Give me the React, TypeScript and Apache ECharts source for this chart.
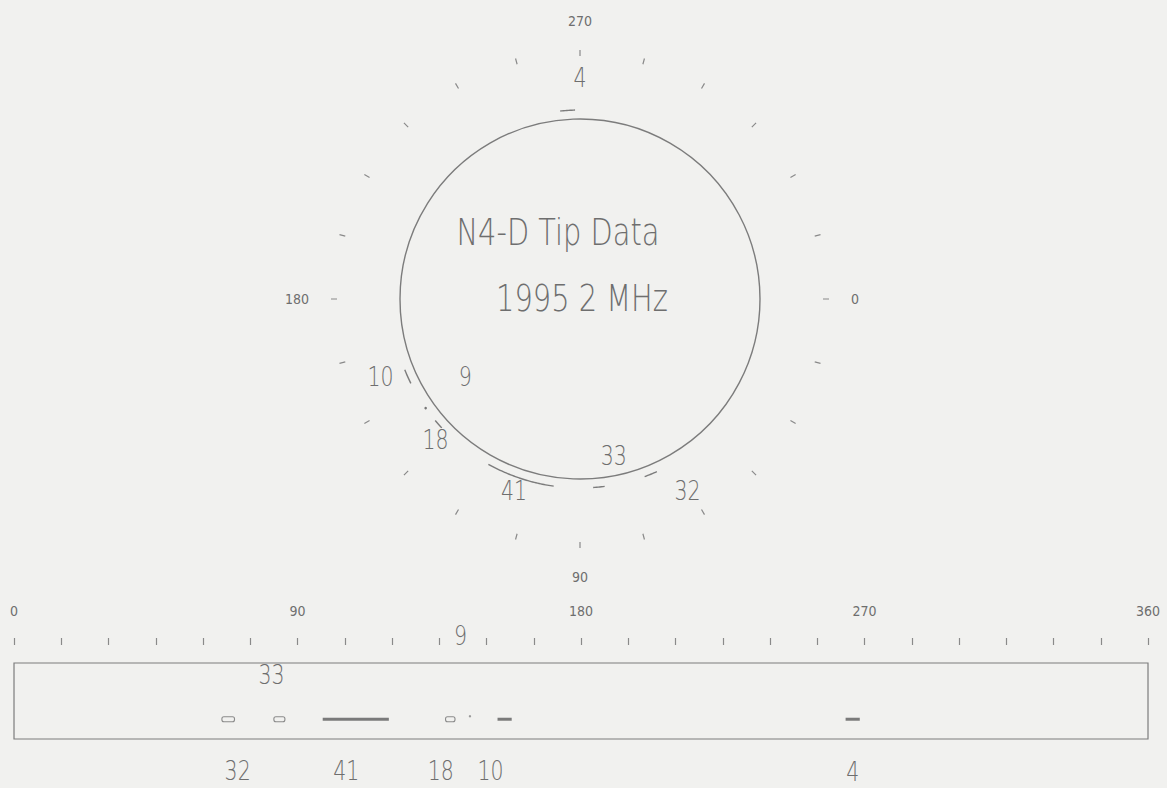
import React, { useEffect, useRef } from 'react';
import * as echarts from 'echarts';

// Tip indications: id, and angular extent in degrees (0 = right, clockwise)
const tipIds = ['32', '33', '41', '18', '9', '10', '4'];
const arcStart = [66, 82.5, 98, 137, 144.5, 153.5, 264];
const arcEnd = [70, 86, 119, 140, 145, 158, 268.5];

// Angle scale shared by the polar view and the unrolled strip
const angleMin = 0;
const angleMax = 360;
const angleStep = 15;
const labelledAngles = [0, 90, 180, 270, 360];

const titleLines = ['N4-D Tip Data', '1995 2 MHz'];

// ---- layout and styling ----
const THIN_FONT = "'DejaVu Sans', 'Noto Sans', sans-serif";
const AXIS_FONT = "'DejaVu Sans Condensed', 'DejaVu Sans', sans-serif";
const INK = '#6e6e6e';
const LINE = '#7c7c7c';
const BG = '#f1f1ef';
const NARROW = 0.76; // horizontal squeeze for the plotter-style lettering

const POLAR_CENTER = [580, 299];
const CIRCLE_PX = 180;
const RING_PX = 243;
const MARK_R = 1.05; // arc marks sit just outside the unit circle

// where each id label sits around the circle (angle in deg, radius in circle units)
const polarLabelAt: Record<string, { a: number; r: number }> = {
  '32': { a: 60.7, r: 1.22 },
  '33': { a: 77.8, r: 0.89 },
  '41': { a: 108.9, r: 1.13 },
  '18': { a: 135.8, r: 1.12 },
  '9': { a: 145.8, r: 0.77 },
  '10': { a: 158.6, r: 1.19 },
  '4': { a: 270, r: 1.23 },
};

// strip label: horizontal shift (deg) from mark centre, vertical level (grid units)
const stripLabelAt: Record<string, { dx: number; y: number }> = {
  '32': { dx: 3, y: -0.42 },
  '33': { dx: -2.5, y: 0.84 },
  '41': { dx: -3, y: -0.42 },
  '18': { dx: -3, y: -0.42 },
  '9': { dx: -3, y: 1.35 },
  '10': { dx: -4.5, y: -0.42 },
  '4': { dx: 0, y: -0.44 },
};
const STRIP_MARK_Y = 0.26;
const openMarkers = new Set(['32', '33', '18']);
const dotMarkers = new Set(['9']);

const angleLabel = (v: number) => {
  const r = Math.round(v);
  return labelledAngles.includes(r) ? String(r) : '';
};

const idText = (x: number, y: number, text: string, size: number) => ({
  type: 'text',
  x,
  y,
  scaleX: NARROW,
  style: {
    text,
    fontFamily: THIN_FONT,
    fontWeight: 200,
    fontSize: size,
    fill: INK,
    align: 'center',
    verticalAlign: 'middle',
  },
});

export default function App() {
  const ref = useRef<HTMLDivElement>(null);

  useEffect(() => {
    if (!ref.current) return;
    const chart = echarts.init(ref.current, undefined, { renderer: 'svg' });

    const items = tipIds.map((id, i) => [i, arcStart[i], arcEnd[i]]);

    const option: any = {
      animation: false,
      backgroundColor: BG,
      polar: {
        center: POLAR_CENTER,
        radius: RING_PX,
      },
      angleAxis: {
        type: 'value',
        min: angleMin,
        max: angleMax,
        interval: angleStep,
        startAngle: 0,
        clockwise: true,
        axisLine: { show: false },
        axisTick: { show: true, length: 6, lineStyle: { color: '#8a8a8a', width: 1.2 } },
        axisLabel: {
          margin: 28,
          fontFamily: AXIS_FONT,
          fontSize: 14,
          color: INK,
          formatter: (v: number) => (Math.round(v) === 360 ? '' : angleLabel(v)),
        },
        splitLine: { show: false },
      },
      radiusAxis: {
        type: 'value',
        min: 0,
        max: RING_PX / CIRCLE_PX,
        axisLine: { show: false },
        axisTick: { show: false },
        axisLabel: { show: false },
        splitLine: { show: false },
      },
      grid: {
        left: 14,
        top: 663,
        width: 1134,
        height: 76,
        show: true,
        borderColor: LINE,
        borderWidth: 1.2,
        backgroundColor: 'transparent',
      },
      xAxis: {
        type: 'value',
        min: angleMin,
        max: angleMax,
        interval: angleStep,
        position: 'top',
        offset: 18,
        axisLine: { show: false, onZero: false },
        axisTick: { show: true, inside: false, length: 7, lineStyle: { color: '#8a8a8a', width: 1.2 } },
        axisLabel: {
          margin: 27,
          fontFamily: AXIS_FONT,
          fontSize: 14,
          color: INK,
          formatter: angleLabel,
        },
        splitLine: { show: false },
      },
      yAxis: { type: 'value', min: 0, max: 1, show: false },
      graphic: [
        idText(558, 232, titleLines[0], 38),
        idText(582, 298, titleLines[1], 38),
      ],
      series: [
        // unit circle
        {
          type: 'custom',
          coordinateSystem: 'polar',
          silent: true,
          data: [[1, 0]],
          renderItem: (params: any, api: any) => {
            const c = api.coord([0, 0]);
            const e = api.coord([api.value(0), 0]);
            const r = Math.hypot(e[0] - c[0], e[1] - c[1]);
            return {
              type: 'circle',
              shape: { cx: c[0], cy: c[1], r },
              style: { fill: 'none', stroke: LINE, lineWidth: 1.4 },
            };
          },
        },
        // arcs + id labels around the circle
        {
          type: 'custom',
          coordinateSystem: 'polar',
          silent: true,
          data: items,
          renderItem: (params: any, api: any) => {
            const i = api.value(0);
            const a0 = api.value(1);
            const a1 = api.value(2);
            const id = tipIds[i];
            const children: any[] = [];
            if (a1 - a0 < 1) {
              const p = api.coord([MARK_R, (a0 + a1) / 2]);
              children.push({
                type: 'circle',
                shape: { cx: p[0], cy: p[1], r: 1.3 },
                style: { fill: '#777' },
              });
            } else {
              const pts: number[][] = [];
              const n = Math.max(2, Math.ceil((a1 - a0) / 0.5));
              for (let k = 0; k <= n; k++) {
                pts.push(api.coord([MARK_R, a0 + ((a1 - a0) * k) / n]));
              }
              children.push({
                type: 'polyline',
                shape: { points: pts },
                style: { fill: 'none', stroke: LINE, lineWidth: 1.4 },
              });
            }
            const lp = polarLabelAt[id];
            const t = api.coord([lp.r, lp.a]);
            children.push(idText(t[0], t[1], id, 27));
            return { type: 'group', children };
          },
        },
        // unrolled strip marks + labels
        {
          type: 'custom',
          coordinateSystem: 'cartesian2d',
          silent: true,
          clip: false,
          data: items,
          renderItem: (params: any, api: any) => {
            const i = api.value(0);
            const a0 = api.value(1);
            const a1 = api.value(2);
            const id = tipIds[i];
            const p0 = api.coord([a0, STRIP_MARK_Y]);
            const p1 = api.coord([a1, STRIP_MARK_Y]);
            const children: any[] = [];
            if (dotMarkers.has(id)) {
              children.push({
                type: 'circle',
                shape: { cx: (p0[0] + p1[0]) / 2, cy: p0[1] - 3, r: 1.2 },
                style: { fill: '#999' },
              });
            } else if (openMarkers.has(id)) {
              children.push({
                type: 'rect',
                shape: { x: p0[0], y: p0[1] - 2.5, width: p1[0] - p0[0], height: 5, r: 2 },
                style: { fill: 'none', stroke: '#8a8a8a', lineWidth: 1.1 },
              });
            } else {
              children.push({
                type: 'rect',
                shape: { x: p0[0], y: p0[1] - 1.5, width: p1[0] - p0[0], height: 3 },
                style: { fill: '#7a7a7a' },
              });
            }
            const lp = stripLabelAt[id];
            const t = api.coord([(a0 + a1) / 2 + lp.dx, lp.y]);
            children.push(idText(t[0], t[1], id, 27));
            return { type: 'group', children };
          },
        },
      ],
    };

    chart.setOption(option);
    return () => chart.dispose();
  }, []);

  return (
    <div
      ref={ref}
      style={{ position: 'fixed', left: 0, top: 0, width: 1167, height: 788 }}
    />
  );
}
